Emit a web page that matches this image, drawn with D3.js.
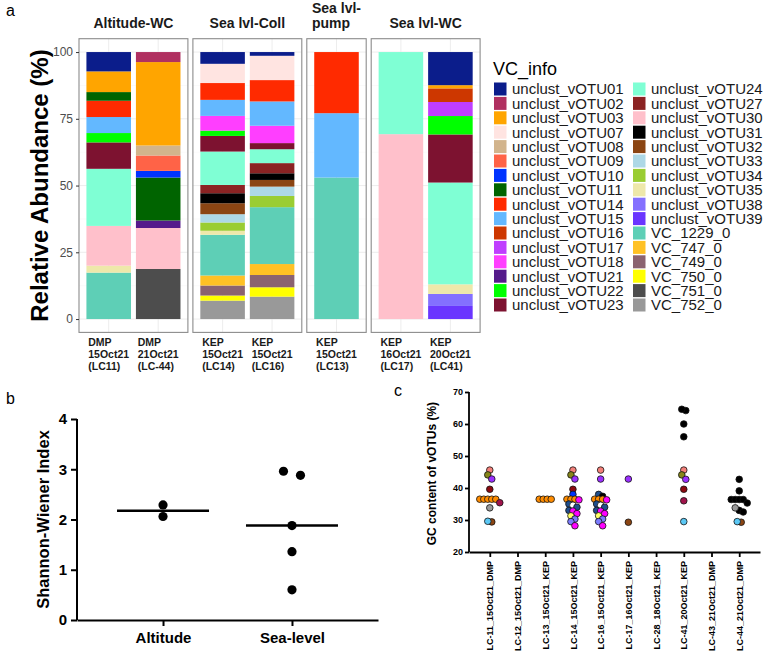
<!DOCTYPE html>
<html>
<head>
<meta charset="utf-8">
<script src="https://cdnjs.cloudflare.com/ajax/libs/d3/7.8.5/d3.min.js"></script>
<style>
  body { margin: 0; background: #fff; }
  svg { font-family: "Liberation Sans", Arial, Helvetica, sans-serif; }
</style>
</head>
<body>
<svg id="fig" width="767" height="652"></svg>
<script>
// ---------- panel a : stacked relative abundance ----------
const vcInfo = [
  "unclust_vOTU01", "unclust_vOTU02", "unclust_vOTU03", "unclust_vOTU07", "unclust_vOTU08",
  "unclust_vOTU09", "unclust_vOTU10", "unclust_vOTU11", "unclust_vOTU14", "unclust_vOTU15",
  "unclust_vOTU16", "unclust_vOTU17", "unclust_vOTU18", "unclust_vOTU21", "unclust_vOTU22",
  "unclust_vOTU23", "unclust_vOTU24", "unclust_vOTU27", "unclust_vOTU30", "unclust_vOTU31",
  "unclust_vOTU32", "unclust_vOTU33", "unclust_vOTU34", "unclust_vOTU35", "unclust_vOTU38",
  "unclust_vOTU39", "VC_1229_0", "VC_747_0", "VC_749_0", "VC_750_0", "VC_751_0", "VC_752_0"
];
const vcColors = [
  "#0B1D8B", "#B03060", "#FFA500", "#FFE4E1", "#D2B48C",
  "#FF6347", "#0033FF", "#006400", "#FF2A00", "#63B8FF",
  "#CD3700", "#BF3EFF", "#FF3EFF", "#551A8B", "#00FF00",
  "#7D1230", "#7FFFD4", "#8B2323", "#FFC0CB", "#000000",
  "#8B4513", "#ADD8E6", "#9ACD32", "#EEE8AA", "#8470FF",
  "#6A35FF", "#5ECFB6", "#FFC125", "#8B6370", "#FFFF00", "#4D4D4D", "#999999"
];

const samples = ["LC11", "LC-44", "LC14", "LC16", "LC13", "LC17", "LC41"];
const sampleSite = ["DMP", "DMP", "KEP", "KEP", "KEP", "KEP", "KEP"];
const sampleDate = ["15Oct21", "21Oct21", "15Oct21", "15Oct21", "15Oct21", "16Oct21", "20Oct21"];
const sampleFacet = ["Altitude-WC", "Altitude-WC", "Sea lvl-Coll", "Sea lvl-Coll", "Sea lvl-pump", "Sea lvl-WC", "Sea lvl-WC"];
const facetNames = ["Altitude-WC", "Sea lvl-Coll", "Sea lvl-pump", "Sea lvl-WC"];
const facetLines = [["Altitude-WC"], ["Sea lvl-Coll"], ["Sea lvl-", "pump"], ["Sea lvl-WC"]];
const yTicksA = [0, 25, 50, 75, 100];

const abLC11 = [["unclust_vOTU01", 7.25], ["unclust_vOTU03", 7.75], ["unclust_vOTU11", 3.25], ["unclust_vOTU14", 6.1],
  ["unclust_vOTU15", 6.0], ["unclust_vOTU22", 3.5], ["unclust_vOTU23", 9.9], ["unclust_vOTU24", 21.4],
  ["unclust_vOTU30", 14.9], ["unclust_vOTU35", 2.6], ["VC_1229_0", 17.4]];
const abLC44 = [["unclust_vOTU02", 3.75], ["unclust_vOTU03", 31.25], ["unclust_vOTU08", 3.75], ["unclust_vOTU09", 5.75],
  ["unclust_vOTU10", 2.5], ["unclust_vOTU11", 16.1], ["unclust_vOTU21", 2.8], ["unclust_vOTU30", 15.35], ["VC_751_0", 18.75]];
const abLC14 = [["unclust_vOTU01", 4.4], ["unclust_vOTU07", 7.2], ["unclust_vOTU14", 6.3], ["unclust_vOTU15", 6.0],
  ["unclust_vOTU18", 5.5], ["unclust_vOTU22", 2.0], ["unclust_vOTU23", 5.85], ["unclust_vOTU24", 12.5],
  ["unclust_vOTU27", 3.1], ["unclust_vOTU31", 3.75], ["unclust_vOTU32", 4.1], ["unclust_vOTU33", 3.1],
  ["unclust_vOTU34", 3.1], ["unclust_vOTU35", 1.5], ["VC_1229_0", 15.25], ["VC_747_0", 3.75],
  ["VC_749_0", 3.75], ["VC_750_0", 1.9], ["VC_752_0", 6.9]];
const abLC16 = [["unclust_vOTU01", 1.4], ["unclust_vOTU07", 9.1], ["unclust_vOTU14", 8.0], ["unclust_vOTU15", 9.1],
  ["unclust_vOTU18", 6.5], ["unclust_vOTU23", 2.3], ["unclust_vOTU24", 5.2], ["unclust_vOTU27", 3.8],
  ["unclust_vOTU31", 2.5], ["unclust_vOTU32", 2.5], ["unclust_vOTU33", 3.5], ["unclust_vOTU34", 4.2],
  ["VC_1229_0", 21.3], ["VC_747_0", 4.1], ["VC_749_0", 4.6], ["VC_750_0", 3.5], ["VC_752_0", 8.4]];
const abLC13 = [["unclust_vOTU14", 22.9], ["unclust_vOTU15", 24.1], ["VC_1229_0", 53.0]];
const abLC17 = [["unclust_vOTU24", 30.75], ["unclust_vOTU30", 69.25]];
const abLC41 = [["unclust_vOTU01", 12.4], ["unclust_vOTU03", 1.2], ["unclust_vOTU16", 5.1], ["unclust_vOTU17", 5.25],
  ["unclust_vOTU22", 6.9], ["unclust_vOTU23", 18.0], ["unclust_vOTU24", 38.1], ["unclust_vOTU35", 3.6],
  ["unclust_vOTU38", 4.5], ["unclust_vOTU39", 4.9]];
const sampleAbund = [abLC11, abLC44, abLC14, abLC16, abLC13, abLC17, abLC41];

// ---------- panel b : Shannon-Wiener ----------
const shannonGroups = ["Altitude", "Sea-level"];
const shannonAltitude = [2.29, 2.06];
const shannonSeaLevel = [2.96, 2.88, 1.88, 1.36, 0.60];
const yTicksB = [0, 1, 2, 3, 4];

// ---------- panel c : GC content ----------
const gcSamples = ["LC-11_15Oct21_DMP", "LC-12_15Oct21_DMP", "LC-13_15Oct21_KEP", "LC-14_15Oct21_KEP",
  "LC-16_15Oct21_KEP", "LC-17_16Oct21_KEP", "LC-28_18Oct21_KEP", "LC-41_20Oct21_KEP",
  "LC-43_21Oct21_DMP", "LC-44_21Oct21_DMP"];
const gcColorNames = ["salmon", "olive", "purple", "maroon", "orange", "crimson", "grey", "brown", "sky",
  "blue", "white", "navy", "magenta", "slate", "yellow", "black"];
const gcColorValues = ["#F4807A", "#86861A", "#9B30FF", "#8B0A10", "#FF8C00", "#A0144B", "#9A9A9A", "#8B4513", "#5BC8F5",
  "#0033FF", "#FFFFFF", "#1F4E8C", "#FF00FF", "#7B7BFF", "#FFFF66", "#000000"];
const gcLC11 = [[45.6, "salmon"], [44.1, "olive"], [42.8, "purple"], [39.6, "maroon"], [36.5, "orange"], [36.5, "orange"],
  [36.5, "orange"], [36.5, "orange"], [36.5, "orange"], [35.4, "crimson"], [33.8, "grey"], [29.4, "brown"], [29.6, "sky"]];
const gcLC12 = [];
const gcLC13 = [[36.5, "orange"], [36.5, "orange"], [36.5, "orange"], [36.5, "orange"]];
const gcLC14 = [[45.6, "salmon"], [44.1, "olive"], [42.8, "purple"], [39.6, "maroon"], [38.0, "blue"], [36.5, "orange"],
  [36.5, "orange"], [36.5, "orange"], [36.3, "magenta"], [35.0, "navy"], [34.6, "white"], [34.0, "navy"], [33.0, "navy"],
  [32.8, "magenta"], [32.0, "magenta"], [31.3, "yellow"], [30.3, "slate"], [29.5, "slate"], [28.2, "magenta"]];
const gcLC16 = [[45.6, "salmon"], [42.8, "purple"], [38.0, "navy"], [37.4, "black"], [36.5, "orange"], [36.5, "orange"],
  [36.5, "orange"], [36.3, "magenta"], [35.0, "navy"], [34.6, "white"], [34.0, "navy"], [33.0, "navy"],
  [32.8, "magenta"], [32.0, "magenta"], [31.3, "yellow"], [30.3, "slate"], [29.5, "slate"], [28.2, "magenta"]];
const gcLC17 = [[42.8, "purple"], [29.3, "brown"]];
const gcLC28 = [];
const gcLC41 = [[64.2, "black"], [64.6, "black"], [60.0, "black"], [56.0, "black"], [45.6, "salmon"], [44.1, "olive"],
  [42.7, "purple"], [39.6, "maroon"], [36.0, "crimson"], [29.5, "sky"]];
const gcLC43 = [];
const gcLC44 = [[42.7, "black"], [39.1, "black"], [36.4, "black"], [36.4, "black"], [36.4, "black"], [36.4, "black"],
  [35.3, "black"], [33.0, "black"], [32.5, "black"], [33.8, "grey"], [29.3, "brown"], [29.5, "sky"]];
const gcValues = [gcLC11, gcLC12, gcLC13, gcLC14, gcLC16, gcLC17, gcLC28, gcLC41, gcLC43, gcLC44];
const yTicksC = [20, 30, 40, 50, 60, 70];

const svg = d3.select("#fig");
const fontFam = '"Liberation Sans", Arial, sans-serif';

// dot-plot spreading: points whose pixel y lie within binH of a group's first point
// are laid out side by side, centred on the category
function spread(values, yScale, binH, step) {
  const pts = values.map((v, i) => ({ i, y: yScale(v) })).sort((a, b) => a.y - b.y);
  const off = new Array(values.length).fill(0);
  let k = 0;
  while (k < pts.length) {
    const grp = [pts[k]];
    let j = k + 1;
    while (j < pts.length && pts[j].y - pts[k].y < binH) grp.push(pts[j++]);
    grp.forEach((p, m) => { off[p.i] = (m - (grp.length - 1) / 2) * step; });
    k = j;
  }
  return off;
}

// ================= panel a =================
svg.append("text").attr("x", 6).attr("y", 16).attr("font-size", 16).text("a");

const color = d3.scaleOrdinal().domain(vcInfo).range(vcColors);
const yA = d3.scaleLinear().domain([-5, 105]).range([332.4, 38.7]);
const unit = 49.5, gap = 5;
let cursor = 79;
const facets = facetNames.map((f, i) => {
  const members = samples.filter((s, j) => sampleFacet[j] === f);
  const w = (members.length + 0.2) * unit;
  const x = d3.scaleBand().domain(members).range([cursor, cursor + w]).paddingInner(0.1).paddingOuter(0.15);
  const o = { f, lines: facetLines[i], members, x0: cursor, w, x };
  cursor += w + gap;
  return o;
});

const rows = samples.map((s, i) => {
  const r = { sample: s };
  vcInfo.forEach(k => r[k] = 0);
  const tot = d3.sum(sampleAbund[i], d => d[1]);
  sampleAbund[i].forEach(([k, v]) => r[k] = v / tot * 100);
  return r;
});
const series = d3.stack().keys(vcInfo.slice().reverse())(rows);

facets.forEach(fc => {
  const g = svg.append("g");
  g.append("rect").attr("x", fc.x0).attr("y", yA(105)).attr("width", fc.w).attr("height", yA(-5) - yA(105))
    .attr("fill", "#fff");
  // minor + major grid
  d3.range(0, 101, 12.5).forEach(v => {
    g.append("line").attr("x1", fc.x0).attr("x2", fc.x0 + fc.w).attr("y1", yA(v)).attr("y2", yA(v))
      .attr("stroke", v % 25 === 0 ? "#EBEBEB" : "#F4F4F4").attr("stroke-width", v % 25 === 0 ? 0.9 : 0.5);
  });
  fc.members.forEach(s => {
    const cx = fc.x(s) + fc.x.bandwidth() / 2;
    g.append("line").attr("x1", cx).attr("x2", cx).attr("y1", yA(105)).attr("y2", yA(-5))
      .attr("stroke", "#EBEBEB").attr("stroke-width", 0.9);
  });
  series.forEach(sr => {
    sr.filter(d => fc.members.includes(d.data.sample) && d[1] - d[0] > 0).forEach(d => {
      g.append("rect")
        .attr("x", fc.x(d.data.sample)).attr("width", fc.x.bandwidth())
        .attr("y", yA(d[1])).attr("height", yA(d[0]) - yA(d[1]))
        .attr("fill", color(sr.key));
    });
  });
  g.append("rect").attr("x", fc.x0).attr("y", yA(105)).attr("width", fc.w).attr("height", yA(-5) - yA(105))
    .attr("fill", "none").attr("stroke", "#8C8C8C").attr("stroke-width", 1.1);

  // strip title
  const t = g.append("text").attr("font-size", 14).attr("font-weight", "bold").attr("fill", "#1a1a1a");
  const baseY = fc.lines.length === 1 ? 28 : 13;
  const spans = fc.lines.map((l, k) => t.append("tspan").attr("y", baseY + k * 15).text(l));
  const tw = d3.max(spans, s => s.node().getComputedTextLength());
  spans.forEach(s => s.attr("x", fc.x0 + fc.w / 2 - tw / 2));

  // sample labels
  fc.members.forEach(s => {
    const j = samples.indexOf(s);
    const cx = fc.x(s) + fc.x.bandwidth() / 2;
    const lab = g.append("text").attr("font-size", 10.5).attr("font-weight", "bold").attr("fill", "#1a1a1a");
    const lines = [sampleSite[j], sampleDate[j], "(" + s + ")"];
    const sp = lines.map((l, k) => lab.append("tspan").attr("y", 346 + k * 12).text(l));
    const w = d3.max(sp, q => q.node().getComputedTextLength());
    sp.forEach(q => q.attr("x", cx - w / 2));
  });
});

// y axis of panel a
const yAxisA = svg.append("g").attr("transform", "translate(79,0)")
  .call(d3.axisLeft(yA).tickValues(yTicksA).tickSize(3).tickPadding(3));
yAxisA.select(".domain").remove();
yAxisA.selectAll("line").attr("stroke", "#333");
yAxisA.selectAll("text").attr("font-size", 12).attr("fill", "#4D4D4D").attr("font-family", fontFam);
svg.append("text").attr("transform", `translate(48,${yA(50)}) rotate(-90)`)
  .attr("text-anchor", "middle").attr("font-size", 24).attr("font-weight", "bold")
  .text("Relative Abundance (%)");

// legend
const leg = svg.append("g");
leg.append("text").attr("x", 493).attr("y", 75).attr("font-size", 18).text("VC_info");
vcInfo.forEach((k, i) => {
  const col = Math.floor(i / 16), row = i % 16;
  const lx = col === 0 ? 494 : 633;
  const ly = 89 + row * 14.4;
  leg.append("rect").attr("x", lx).attr("y", ly - 6.5).attr("width", 12.5).attr("height", 13).attr("fill", color(k));
  leg.append("text").attr("x", lx + 18).attr("y", ly + 5.3).attr("font-size", 15).attr("fill", "#1a1a1a").text(k);
});

// ================= panel b =================
svg.append("text").attr("x", 6).attr("y", 404).attr("font-size", 16).text("b");
const yB = d3.scaleLinear().domain([0, 4]).range([620, 419]);
const xB = d3.scalePoint().domain(shannonGroups).range([77, 378]).padding(0.667);

const axB = svg.append("g").attr("transform", "translate(77,0)")
  .call(d3.axisLeft(yB).tickValues(yTicksB).tickFormat(d3.format("d")).tickSize(6).tickPadding(4));
const axBx = svg.append("g").attr("transform", "translate(0,620)")
  .call(d3.axisBottom(xB).tickSize(6).tickPadding(6).tickSizeOuter(0));
[axB, axBx].forEach(a => {
  a.selectAll(".domain, line").attr("stroke", "#000").attr("stroke-width", 2);
  a.selectAll("text").attr("font-size", 15).attr("font-weight", "bold").attr("fill", "#000").attr("font-family", fontFam);
});
axB.select(".domain").attr("d", `M0,${yB(4)}V${yB(0)}`);
svg.append("text").attr("transform", `translate(49,${yB(2)}) rotate(-90)`)
  .attr("text-anchor", "middle").attr("font-size", 16.5).attr("font-weight", "bold")
  .text("Shannon-Wiener Index");

[shannonAltitude, shannonSeaLevel].forEach((vals, gi) => {
  const cx = xB(shannonGroups[gi]);
  const med = d3.median(vals);
  svg.append("line").attr("x1", cx - 46).attr("x2", cx + 46).attr("y1", yB(med)).attr("y2", yB(med))
    .attr("stroke", "#000").attr("stroke-width", 2.4);
  const off = spread(vals, yB, 10, 17);
  vals.forEach((v, i) => {
    svg.append("circle").attr("cx", cx + off[i]).attr("cy", yB(v)).attr("r", 4.6).attr("fill", "#000");
  });
});

// ================= panel c =================
svg.append("text").attr("x", 394).attr("y", 396).attr("font-size", 16).text("c");
const yC = d3.scaleLinear().domain([20, 70]).range([552, 392]);
const xC = d3.scalePoint().domain(gcSamples).range([469, 760]).padding(0.75);
const gcColor = d3.scaleOrdinal().domain(gcColorNames).range(gcColorValues);

const axC = svg.append("g").attr("transform", "translate(469,0)")
  .call(d3.axisLeft(yC).tickValues(yTicksC).tickSize(4).tickPadding(2));
const axCx = svg.append("g").attr("transform", "translate(0,552)")
  .call(d3.axisBottom(xC).tickSize(5).tickSizeOuter(0));
[axC, axCx].forEach(a => {
  a.selectAll(".domain, line").attr("stroke", "#000").attr("stroke-width", 1.8);
  a.selectAll("text").attr("font-size", 9).attr("font-weight", "bold").attr("fill", "#000").attr("font-family", fontFam);
});
axC.select(".domain").attr("d", `M0,${yC(70)}V${yC(20)}`);
axCx.selectAll("text").attr("transform", "rotate(-90)").attr("text-anchor", "end")
  .attr("x", -9).attr("y", 0).attr("dy", "0.35em");
svg.append("text").attr("transform", `translate(436,${yC(44.5)}) rotate(-90)`)
  .attr("text-anchor", "middle").attr("font-size", 12).attr("font-weight", "bold")
  .text("GC content of vOTUs (%)");

gcValues.forEach((pts, si) => {
  const cx = xC(gcSamples[si]);
  const off = spread(pts.map(p => p[0]), yC, 4.5, 4);
  pts.forEach((p, i) => {
    svg.append("circle").attr("cx", cx + off[i]).attr("cy", yC(p[0])).attr("r", 3.3)
      .attr("fill", gcColor(p[1])).attr("stroke", "#111").attr("stroke-width", 0.8);
  });
});
</script>
</body>
</html>
